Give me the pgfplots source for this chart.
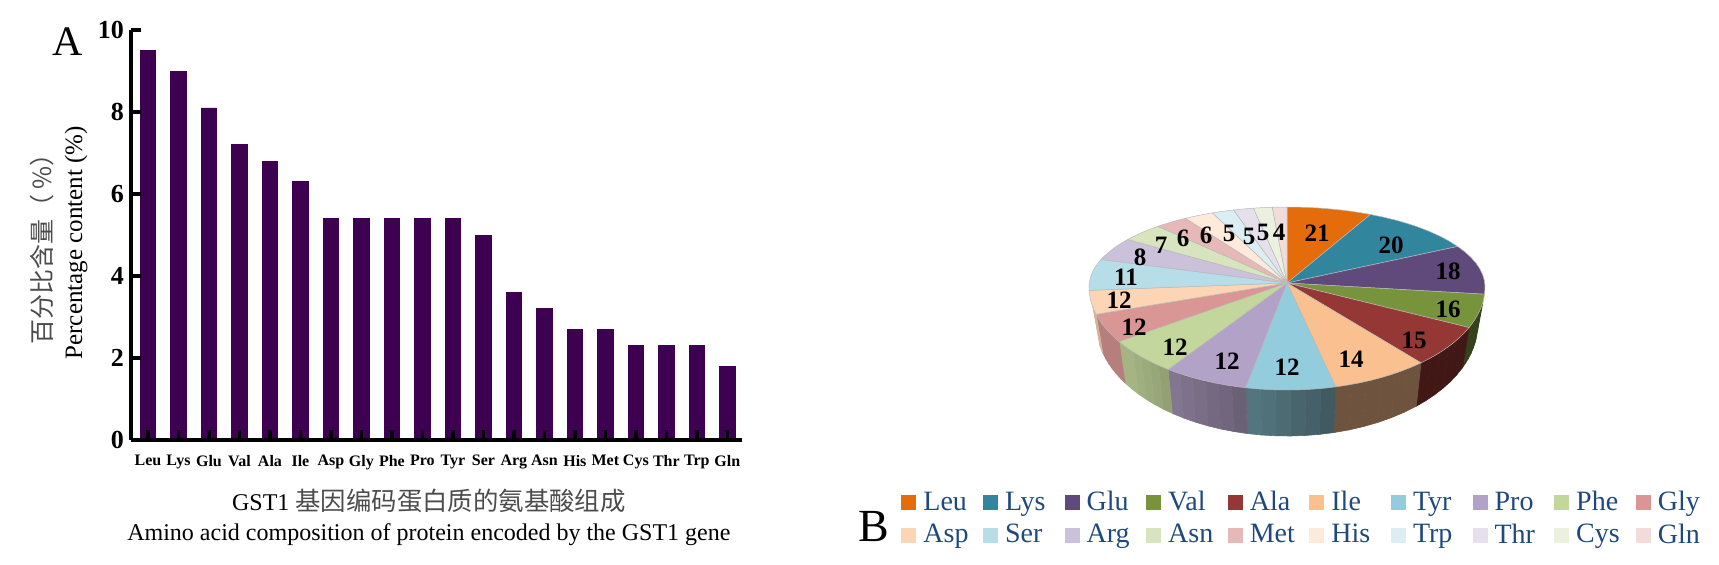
\documentclass[border=0pt]{standalone}
\usepackage{fontspec}
\usepackage{pgfplots}
\pgfplotsset{compat=1.18}
\setmainfont{Liberation Serif}
\newfontfamily\cjk{Noto Sans CJK SC}

% pie colours, in the order of the legend
\definecolor{pie1}{HTML}{E46C0A}
\definecolor{pie2}{HTML}{31859C}
\definecolor{pie3}{HTML}{604A7B}
\definecolor{pie4}{HTML}{77933C}
\definecolor{pie5}{HTML}{953735}
\definecolor{pie6}{HTML}{FAC090}
\definecolor{pie7}{HTML}{93CDDD}
\definecolor{pie8}{HTML}{B3A2C7}
\definecolor{pie9}{HTML}{C3D69B}
\definecolor{pie10}{HTML}{D99694}
\definecolor{pie11}{HTML}{FCD5B5}
\definecolor{pie12}{HTML}{B7DEE8}
\definecolor{pie13}{HTML}{CCC1DA}
\definecolor{pie14}{HTML}{D7E4BD}
\definecolor{pie15}{HTML}{E6B9B8}
\definecolor{pie16}{HTML}{FDEADA}
\definecolor{pie17}{HTML}{DBEEF4}
\definecolor{pie18}{HTML}{E6E0EC}
\definecolor{pie19}{HTML}{EBF1DE}
\definecolor{pie20}{HTML}{F2DCDB}
\definecolor{barcol}{HTML}{3E0050}
\definecolor{legtext}{HTML}{1F497D}

% slice angle -> angle on the drawn ellipse (the tilt bends the slices)
\newcommand\mapangle[2]{%
  \pgfmathsetmacro#1{#2+(#2<180 ? -10 : 10)*abs(sin(2*#2))}%
}
% rim point of the tilted pie, in reference pixels
\newcommand\piepoint[1]{%
  \pgfmathsetmacro\ca{cos(#1)}%
  \pgfmathsetmacro\sa{sin(#1)}%
  \pgfmathsetmacro\px{1287+198*\sa}%
  \pgfmathsetmacro\py{\ca>0 ? 287-80*\ca : 287-103*\ca}%
  \pgfmathsetmacro\qx{1287+191*\sa}%
  \pgfmathsetmacro\qy{\py+36+10*abs(\ca)}%
}
\newcommand\legbox[1]{\makebox[29.3pt][l]{\hspace{1.5pt}#1}}

\begin{document}
\begin{tikzpicture}
  \begin{axis}[
      at={(65.5pt,62pt)}, anchor=south west,
      scale only axis, width=305.5pt, height=205pt,
      xmin=-0.557, xmax=19.48, ymin=0, ymax=10,
      axis x line=bottom, axis y line=left,
      axis line style={-, line width=1.75pt},
      axis on top,
      tick align=inside, major tick length=5pt,
      tick style={line width=1.75pt, black},
      xtick=data,
      xticklabels={Leu,Lys,Glu,Val,Ala,Ile,Asp,Gly,Phe,Pro,Tyr,Ser,Arg,Asn,His,Met,Cys,Thr,Trp,Gln},
      xticklabel style={font=\fontsize{8}{9}\selectfont\bfseries, yshift=-4pt},
      ytick={0,2,4,6,8,10},
      yticklabel style={font=\fontsize{13}{15}\selectfont\bfseries, /pgf/number format/assume math mode=true},
      ylabel shift=-1.6pt,
      ylabel style={align=center, font=\fontsize{12.5}{15.5}\selectfont, at={(ticklabel cs:0.481)}},
      ylabel={{\cjk\color{black!70}百分比含量（ \%）}\\Percentage content (\%)},
      xlabel shift=3pt,
      xlabel style={align=center, font=\fontsize{12}{15}\selectfont, xshift=-3.8pt},
      xlabel={GST1 {\cjk\fontsize{12.7}{15}\selectfont\color{black!70}基因编码蛋白质的氨基酸组成}\\Amino acid composition of protein encoded by the GST1 gene},
    ]
    \addplot[ybar, bar width=7.8pt, bar shift=0pt, fill=barcol, draw=barcol] coordinates {
      (0,9.5) (1,9.0) (2,8.1) (3,7.2) (4,6.8) (5,6.3) (6,5.4) (7,5.4) (8,5.4) (9,5.4)
      (10,5.4) (11,5.0) (12,3.6) (13,3.2) (14,2.7) (15,2.7) (16,2.3) (17,2.3) (18,2.3) (19,1.8)
    };
  \end{axis}

  \begin{axis}[
      at={(0pt,0pt)}, anchor=south west,
      scale only axis, width=859.5pt, height=282pt,
      xmin=0, xmax=1719, ymin=0, ymax=564, y dir=reverse,
      hide axis, clip=false,
      legend columns=10,
      legend entries={\legbox{Leu},\legbox{Lys},\legbox{Glu},\legbox{Val},\legbox{Ala},\legbox{Ile},\legbox{Tyr},\legbox{Pro},\legbox{Phe},\legbox{Gly},
        \legbox{Asp},\legbox{Ser},\legbox{Arg},\legbox{Asn},\legbox{Met},\legbox{His},\legbox{Trp},\legbox{Thr},\legbox{Cys},\legbox{Gln}},
      legend image code/.code={\fill[#1,draw=none] (0pt,-3.75pt) rectangle (7.5pt,3.75pt);},
      legend style={at={(axis cs:901,487)}, anchor=north west, draw=none, fill=none,
        text=legtext, font=\fontsize{14}{15}\selectfont, inner sep=0pt, row sep=1pt,
        column sep=0pt},
    ]
    % rim first, then the top slices over it (221 units make the full circle)
    \gdef\cum{0}\gdef\n{0}\gdef\slicelist{}
    \pgfplotsforeachungrouped \v in {21,20,18,16,15,14,12,12,12,12,12,11,8,7,6,6,5,5,5,4}{%
      \pgfmathtruncatemacro\nn{\n+1}\xdef\n{\nn}%
      \pgfmathsetmacro\thA{\cum*1.62896}%
      \pgfmathsetmacro\nc{\cum+\v}\xdef\cum{\nc}%
      \pgfmathsetmacro\thB{\cum*1.62896}%
      \mapangle\angA\thA
      \mapangle\angB\thB
      \pgfmathsetmacro\ra{max(\angA,98)}%
      \pgfmathsetmacro\rb{min(\angB,258.5)}%
      \pgfmathtruncatemacro\hasrim{\ra<\rb ? 1 : 0}%
      \ifnum\hasrim=1
        \foreach \s in {1,...,6}{%
          \pgfmathsetmacro\ta{\ra+(\rb-\ra)*(\s-1)/6}%
          \pgfmathsetmacro\tb{\ra+(\rb-\ra)*\s/6}%
          \pgfmathtruncatemacro\mixpc{max(44,min(84,44+40*(\ta-165)/65))}%
          \piepoint{\ta}\let\xa\px\let\ya\py\let\ua\qx\let\va\qy
          \piepoint{\tb}%
          \edef\temp{\noexpand\addplot[forget plot, fill=pie\n!\mixpc!black, draw=pie\n!\mixpc!black, line width=0.3pt]
            coordinates {(\xa,\ya) (\px,\py) (\qx,\qy) (\ua,\va)} -- cycle;}%
          \temp
        }%
      \fi
      \gdef\coords{(1287,283) }%
      \foreach \s in {0,...,8}{%
        \pgfmathsetmacro\ta{\angA+(\angB-\angA)*\s/8}%
        \piepoint{\ta}%
        \xdef\coords{\coords(\px,\py) }%
      }%
      \xdef\slicelist{\unexpanded\expandafter{\slicelist}%
        \noexpand\addplot[fill=pie\n, draw=gray!55, line width=0.25pt] coordinates {\coords} -- cycle;}%
    }
    \slicelist

    \foreach \x/\y/\t in {1317/233/21,1391/245/20,1448/271/18,1448/309/16,1414/340/15,1351/359/14,
        1287/367/12,1227/361/12,1175/347/12,1134/327/12,1119/300/12,1126/277/11,1140/257/8,
        1161/245/7,1183/238/6,1206/235/6,1229/233/5,1249/236/5,1263/232/5,1279/232/4}{%
      \edef\temp{\noexpand\node[font=\noexpand\fontsize{12.5}{14}\noexpand\selectfont\noexpand\bfseries] at (axis cs:\x,\y) {\t};}%
      \temp
    }
    \node[font=\fontsize{21}{24}\selectfont] at (axis cs:68,42) {A};
    \node[font=\fontsize{23}{26}\selectfont] at (axis cs:874,526) {B};
  \end{axis}
  \pgfresetboundingbox
  \path[use as bounding box] (0pt,0pt) rectangle (859.5pt,282pt);
\end{tikzpicture}
\end{document}
